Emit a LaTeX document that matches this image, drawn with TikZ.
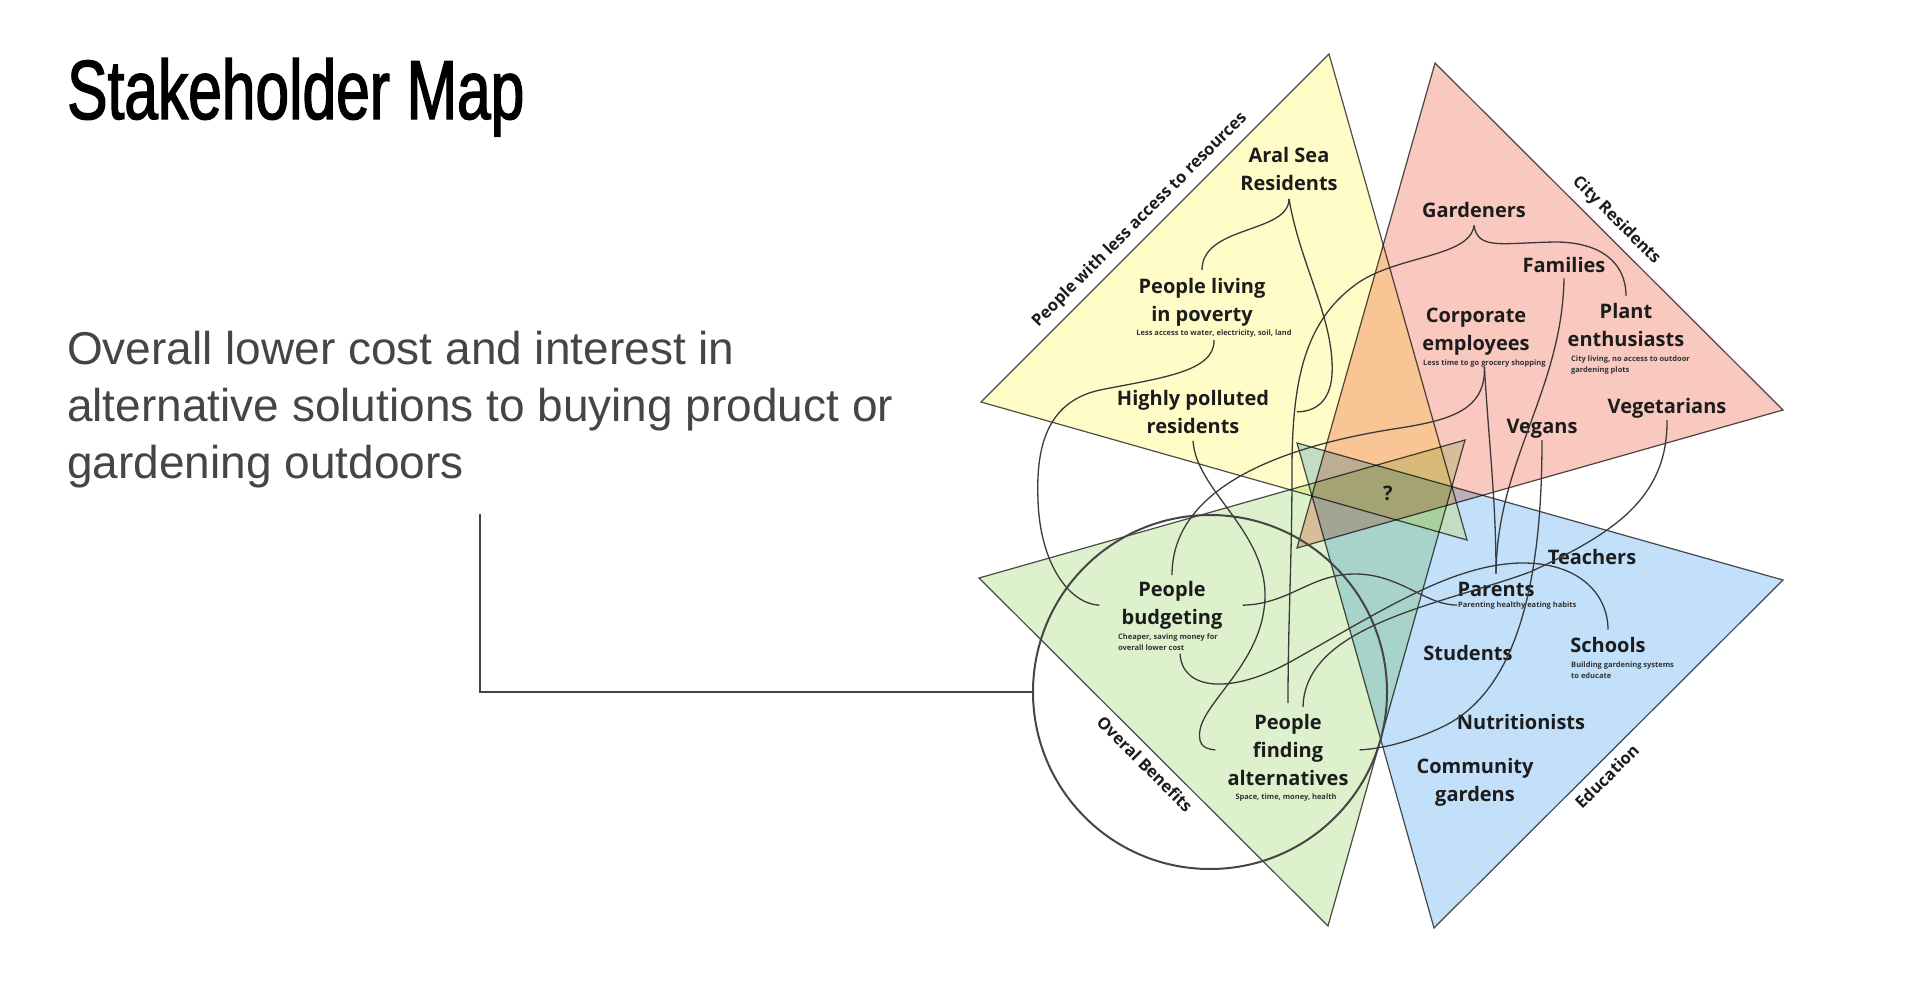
\documentclass[tikz,border=0pt]{standalone}
\usepackage{fontspec}
\setmainfont{Open Sans}
\newfontfamily\headfont[FakeStretch=0.72,FakeBold=1.6]{Liberation Sans}
\newfontfamily\bodyfont{Liberation Sans}
\usetikzlibrary{calc}
\definecolor{Sun}{HTML}{FFFCC8}
\definecolor{Rose}{HTML}{F9C8BE}
\definecolor{Sky}{HTML}{C2E0FA}
\definecolor{Leaf}{HTML}{DDF1CC}
\definecolor{Ink}{HTML}{1C1C1C}
\definecolor{Note}{HTML}{333333}
\definecolor{Edge}{HTML}{4E4E4E}
\definecolor{Wire}{HTML}{3A3A3A}
\definecolor{Slate}{HTML}{454545}
\begin{document}
\begin{tikzpicture}[x=1pt,y=-1pt,
    zone/.style={draw=Edge,line width=1.2pt,line join=miter},
    wire/.style={draw=Wire,line width=1.3pt},
    who/.style={font=\fontsize{20}{28}\selectfont\bfseries,text=Ink,align=center,inner sep=0pt},
    note/.style={font=\fontsize{7.5}{11}\selectfont\bfseries,text=Note,align=left,inner sep=0pt},
    side/.style={font=\fontsize{16.5}{19}\selectfont\bfseries,text=Ink,sloped,inner sep=0pt},
    ring/.style={circle,draw=Slate,line width=2pt,minimum size=354pt,inner sep=0pt},
    lead/.style={draw=Slate,line width=2pt}
  ]
  \fill[white] (0,0) rectangle (1920,982);
  \useasboundingbox (0,0) rectangle (1920,982);

  % heading and summary
  \node[anchor=base west,inner sep=0pt,font=\headfont\fontsize{84}{90}\selectfont]
    (title) at (67,119) {Stakeholder Map};
  \node[anchor=north west,inner sep=0pt,align=left,text=Slate,
    font=\bodyfont\fontsize{46}{57}\selectfont] (desc) at (67,331)
    {Overall lower cost and interest in\\alternative solutions to buying product or\\gardening outdoors};

  % the four groups
  \coordinate (Y1) at (1329,54);  \coordinate (Y2) at (981,402);  \coordinate (Y3) at (1467,540);
  \coordinate (R1) at (1435,63);  \coordinate (R2) at (1783,410); \coordinate (R3) at (1297,548);
  \coordinate (B1) at (1297,443); \coordinate (B2) at (1783,580); \coordinate (B3) at (1434,928);
  \coordinate (G1) at (979,578);  \coordinate (G2) at (1465,440); \coordinate (G3) at (1328,926);
  \begin{scope}[blend mode=multiply]
    \path[zone,fill=Sun]  (Y1)--(Y2)--(Y3)--cycle;
    \path[zone,fill=Rose] (R1)--(R2)--(R3)--cycle;
    \path[zone,fill=Sky]  (B1)--(B2)--(B3)--cycle;
    \path[zone,fill=Leaf] (G1)--(G2)--(G3)--cycle;
  \end{scope}
  \path (Y2) -- node[side,pos=.49,above=8pt] (lackside) {People with less access to resources} (Y1);
  \path (R1) -- node[side,pos=.487,above=8pt] (cityside) {City Residents} (R2);
  \path (B3) -- node[side,pos=.466,below=8pt] (eduside) {Education} (B2);
  \path (G1) -- node[side,pos=.505,below=8pt] (gainside) {Overal Benefits} (G3);

  \node[ring] (benefit) at (1210,692) {};
  \draw[lead] ([yshift=-26pt]desc.south) |- (benefit.west);

  % stakeholders
  \node[who,anchor=north] (aral) at (1289,147) {Aral Sea\\Residents};
  \node[who,anchor=north] (poverty) at (1202,278) {People living\\in poverty};
  \node[note,anchor=base] (povsub) at (1214,335) {Less access to water, electricity, soil, land};
  \node[who,anchor=north] (polluted) at (1193,390) {Highly polluted\\residents};
  \node[who,anchor=base] (gardeners) at (1474,217) {Gardeners};
  \node[who,anchor=base] (families) at (1564,272) {Families};
  \node[who,anchor=north] (corporate) at (1476,308) {Corporate\\employees};
  \node[note,anchor=base west] (corpsub) at (1423,365) {Less time to go grocery shopping};
  \node[who,anchor=north] (plant) at (1626,303) {Plant\\enthusiasts};
  \node[note,anchor=north west] (plantsub) at (1571,355.5) {City living, no access to outdoor\\gardening plots};
  \node[who,anchor=base] (vegetarians) at (1667,413) {Vegetarians};
  \node[who,anchor=base] (vegans) at (1542,433) {Vegans};
  \node[who,anchor=base] (q) at (1388,500) {?};
  \node[who,anchor=base] (teachers) at (1592,564) {Teachers};
  \node[who,anchor=base] (parents) at (1496,596) {Parents};
  \node[note,anchor=base west] (parentsub) at (1458,607) {Parenting healthy eating habits};
  \node[who,anchor=base] (students) at (1468,660) {Students};
  \node[who,anchor=base] (schools) at (1608,652) {Schools};
  \node[note,anchor=north west] (schoolsub) at (1571,661.5) {Building gardening systems\\to educate};
  \node[who,anchor=base] (nutri) at (1521,729) {Nutritionists};
  \node[who,anchor=north] (community) at (1475,758) {Community\\gardens};
  \node[who,anchor=north] (budget) at (1172,581) {People\\budgeting};
  \node[note,anchor=north west] (budgetsub) at (1118,633.5) {Cheaper, saving money for\\overall lower cost};
  \node[who,anchor=north] (finding) at (1288,714) {People\\finding\\alternatives};
  \node[note,anchor=base] (findsub) at (1286,799) {Space, time, money, health};

  % links
  \draw[wire] ([yshift=-8pt]aral.south) .. controls +(0,35) and +(0,-45) .. ([yshift=8pt]poverty.north);
  \draw[wire] ([yshift=-8pt]aral.south) .. controls (1300,265) and (1335,320) .. (1332,375)
    .. controls (1330,402) and (1315,411.5) .. ([xshift=28pt]polluted.east);
  \draw[wire] ([yshift=-3pt]povsub.south) .. controls (1215,372) and (1160,378) .. (1100,390)
    .. controls (1045,402) and (1036,450) .. (1038,500)
    .. controls (1040,565) and (1070,604) .. ([xshift=-22pt]budget.west);
  \draw[wire] ([yshift=-7pt]polluted.south) .. controls (1196,490) and (1265,530) .. (1265,595)
    .. controls (1265,660) and (1205,700) .. (1200,730)
    .. controls (1197,748) and (1208,749) .. ([xshift=-12pt]finding.west);
  \draw[wire] ([xshift=20pt]budget.east) .. controls (1290,604) and (1310,574) .. (1355,574)
    .. controls (1400,574) and (1425,605) .. ([xshift=-1pt]parentsub.west);
  \draw[wire] (corpsub.south) .. controls (1486,410) and (1450,420) .. (1400,428)
    .. controls (1280,446) and (1172,488) .. ([yshift=6pt]budget.north);
  \draw[wire] (corpsub.south) .. controls +(5,83) and +(0,-73) .. ([yshift=8pt]parents.north);
  \draw[wire] ([yshift=-6pt]families.south) .. controls +(-2,112) and +(1,-113) .. ([yshift=8pt]parents.north);
  \draw[wire] ([yshift=-8pt]gardeners.south) .. controls (1470,258) and (1395,255) .. (1355,285)
    .. controls (1305,322) and (1292,380) .. (1292,470)
    .. controls (1292,560) and (1288,620) .. ([yshift=11pt]finding.north);
  \draw[wire] ([yshift=-8pt]gardeners.south) .. controls (1478,250) and (1500,243) .. (1555,242)
    .. controls (1600,242) and (1626,262) .. ([yshift=7pt]plant.north);
  \draw[wire] ([yshift=-2pt]vegans.south) .. controls (1542,560) and (1525,690) .. (1440,728)
    .. controls (1410,742) and (1380,749) .. ([xshift=11pt]finding.east);
  \draw[wire] ([yshift=-2pt]vegetarians.south) .. controls (1668,500) and (1610,535) .. (1530,572)
    .. controls (1440,605) and (1305,625) .. ([xshift=15pt,yshift=7pt]finding.north);
  \draw[wire] ([xshift=12pt,yshift=-3pt]budgetsub.south) .. controls (1182,690) and (1230,695) .. (1290,662)
    .. controls (1380,612) and (1450,565) .. (1520,563)
    .. controls (1580,562) and (1608,595) .. ([yshift=7pt]schools.north);
\end{tikzpicture}
\end{document}
